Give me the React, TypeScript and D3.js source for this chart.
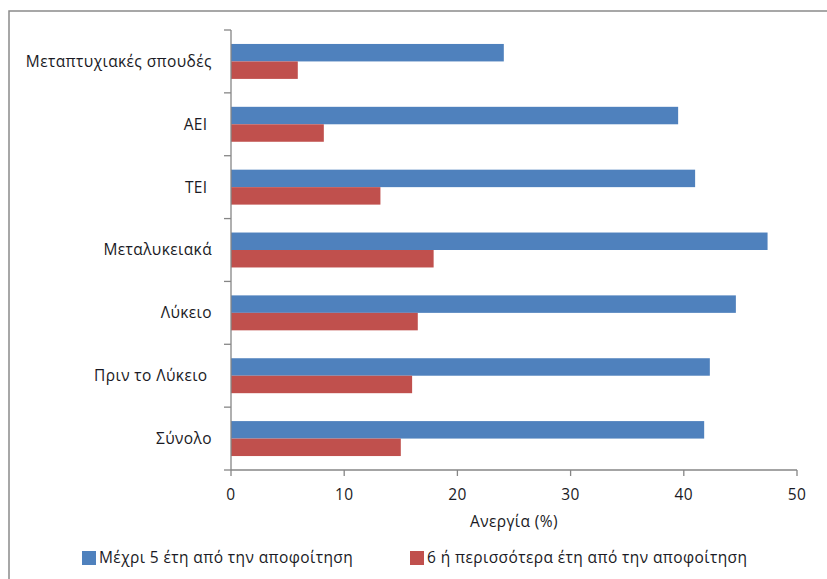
import React from "react";
import * as d3 from "d3";

const categories = [
  "Μεταπτυχιακές σπουδές",
  "ΑΕΙ ",
  "ΤΕΙ ",
  "Μεταλυκειακά",
  "Λύκειο",
  "Πριν το Λύκειο ",
  "Σύνολο",
];
const seriesNames = [
  "Μέχρι 5 έτη από την αποφοίτηση",
  "6 ή περισσότερα έτη από την αποφοίτηση",
];
const upTo5 = [24.1, 39.5, 41.0, 47.4, 44.6, 42.3, 41.8];
const sixPlus = [5.9, 8.2, 13.2, 17.9, 16.5, 16.0, 15.0];
const xTicks = [0, 10, 20, 30, 40, 50];
const xTitle = "Ανεργία (%)";
const colors = ["#4F81BD", "#C0504D"];

const W = 827;
const H = 579;
const left = 231;
const right = 797;
const top = 30;
const bottom = 470;
const font = "'Open Sans', 'Noto Sans', sans-serif";
const textColor = "#1a1a24";
const axisColor = "#868686";
const fs = 15.5;
const ls = 0.4;

export default function App() {
  const x = d3.scaleLinear().domain([0, 50]).range([left, right]);
  const y = d3.scaleBand<string>().domain(categories).range([top, bottom]);
  const band = y.bandwidth();
  const barH = band * 0.278;
  const groupH = barH * 2;
  const offset = (band - groupH) / 2;
  const series = [upTo5, sixPlus];

  return (
    <svg
      width={W}
      height={H}
      style={{ position: "absolute", left: 0, top: 0, background: "#fff" }}
    >
      <rect x={0} y={0} width={W} height={H} fill="#fff" />
      <rect x={9} y={11} width={W} height={H} fill="none" stroke="#8a8a8a" strokeWidth={1.5} />

      {/* bars */}
      {categories.map((c, i) =>
        series.map((s, k) => (
          <rect
            key={c + k}
            x={x(0)}
            y={(y(c) as number) + offset + k * barH}
            width={x(s[i]) - x(0)}
            height={barH}
            fill={colors[k]}
          />
        ))
      )}

      {/* y axis */}
      <line x1={left} x2={left} y1={top} y2={bottom} stroke={axisColor} strokeWidth={1.3} />
      {d3.range(categories.length + 1).map((i) => {
        const yy = top + i * band;
        return <line key={"yt" + i} x1={left - 7} x2={left} y1={yy} y2={yy} stroke={axisColor} strokeWidth={1.3} />;
      })}
      {categories.map((c) => (
        <text
          key={"yl" + c}
          x={212}
          y={(y(c) as number) + band / 2}
          dy="0.35em"
          textAnchor="end"
          fontFamily={font}
          fontSize={fs}
          letterSpacing={ls}
          fill={textColor}
          style={{ whiteSpace: "pre" }}
        >
          {c}
        </text>
      ))}

      {/* x axis */}
      <line x1={left} x2={right} y1={bottom} y2={bottom} stroke={axisColor} strokeWidth={1.3} />
      {xTicks.map((t) => (
        <g key={"xt" + t}>
          <line x1={x(t)} x2={x(t)} y1={bottom} y2={bottom + 6} stroke={axisColor} strokeWidth={1.3} />
          <text
            x={x(t)}
            y={495}
            dy="0.35em"
            textAnchor="middle"
            fontFamily={font}
            fontSize={fs}
            letterSpacing={ls}
            fill={textColor}
          >
            {t}
          </text>
        </g>
      ))}
      <text
        x={(left + right) / 2}
        y={522}
        dy="0.35em"
        textAnchor="middle"
        fontFamily={font}
        fontSize={fs}
        letterSpacing={ls}
        fill={textColor}
      >
        {xTitle}
      </text>

      {/* legend */}
      {seriesNames.map((n, k) => {
        const lx = k === 0 ? 82 : 410;
        return (
          <g key={"lg" + k}>
            <rect x={lx} y={551} width={14} height={14} fill={colors[k]} />
            <text
              x={lx + 17}
              y={558}
              dy="0.35em"
              fontFamily={font}
              fontSize={fs}
              letterSpacing={ls}
              fill={textColor}
            >
              {n}
            </text>
          </g>
        );
      })}
    </svg>
  );
}
